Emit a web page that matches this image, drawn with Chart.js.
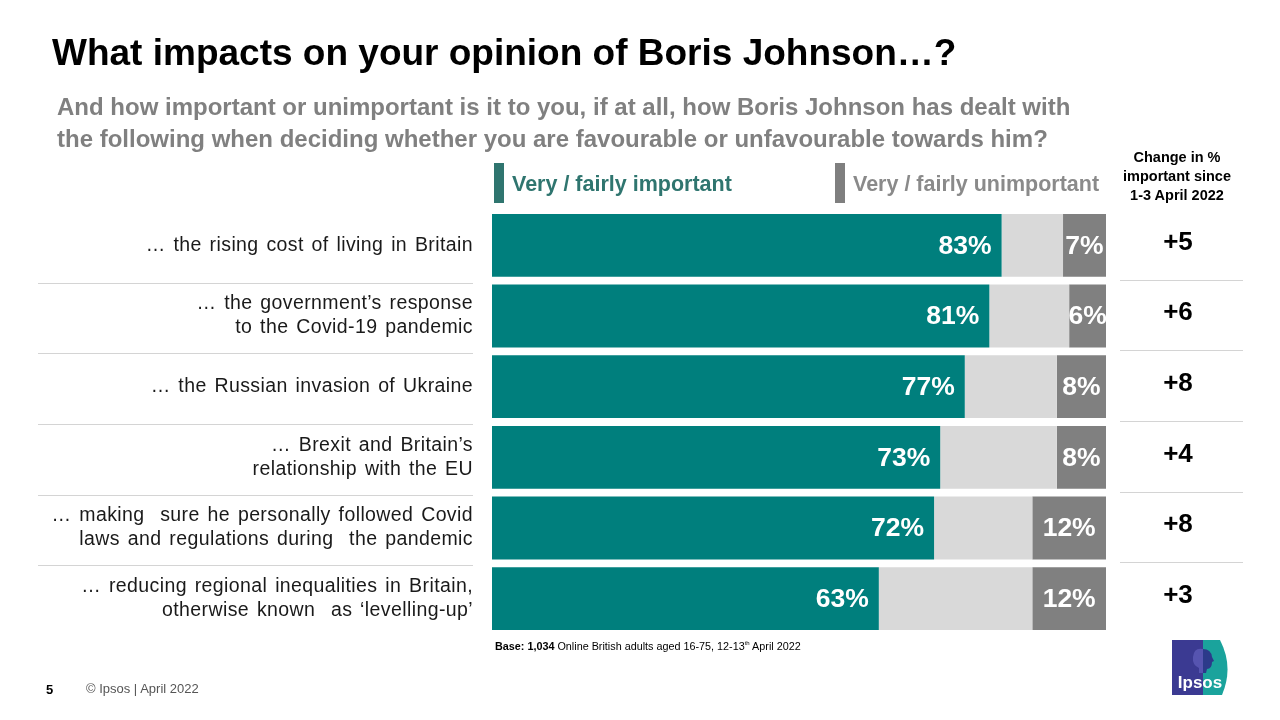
<!DOCTYPE html>
<html>
<head>
<meta charset="utf-8">
<script src="https://cdn.jsdelivr.net/npm/chart.js@4"></script>
<style>
  html,body{margin:0;padding:0;background:#fff;}
  body{width:1280px;height:720px;position:relative;overflow:hidden;font-family:"Liberation Sans",Arial,sans-serif;}
  #wrap{position:absolute;left:0;top:0;width:1280px;height:720px;}
  .abs{position:absolute;white-space:nowrap;}
  #title{left:52px;top:31px;font-size:37px;line-height:44px;font-weight:bold;color:#000;}
  #sub{left:57px;top:91px;font-size:24px;font-weight:bold;color:#808080;line-height:32px;}
  .leg{font-size:21.5px;font-weight:bold;line-height:24px;}
  .mark{position:absolute;width:10px;height:40px;}
  #chg{left:1117px;top:148px;width:120px;text-align:center;font-size:14.5px;font-weight:bold;line-height:19px;color:#000;}
  #base{left:495px;top:640px;font-size:10.8px;color:#000;}
  #pg{left:46px;top:682px;font-size:13px;font-weight:bold;color:#000;}
  #copy{left:86px;top:681px;font-size:13px;color:#555;}
  #logo{position:absolute;left:1172px;top:640px;width:61px;height:55px;overflow:hidden;}
</style>
</head>
<body>
<div id="wrap"><canvas id="c" width="1280" height="720"></canvas></div>
<div class="abs" id="title">What impacts on your opinion of Boris Johnson…?</div>
<div class="abs" id="sub">And how important or unimportant is it to you, if at all, how Boris Johnson has dealt with<br>the following when deciding whether you are favourable or unfavourable towards him?</div>
<div class="mark" style="left:494px;top:163px;background:#2f756f;"></div>
<div class="abs leg" style="left:512px;top:172px;color:#2f756f;">Very / fairly important</div>
<div class="mark" style="left:835px;top:163px;background:#7f7f7f;"></div>
<div class="abs leg" style="left:853px;top:172px;color:#8a8a8a;">Very / fairly unimportant</div>
<div class="abs" id="chg">Change in %<br>important since<br>1-3 April 2022</div>
<div class="abs" id="base"><b>Base: 1,034</b> Online British adults aged 16-75, 12-13<sup style="font-size:6px">th</sup> April 2022</div>
<div class="abs" id="pg">5</div>
<div class="abs" id="copy">© Ipsos | April 2022</div>
<div id="logo">
  <svg width="61" height="55" viewBox="0 0 61 55">
    <path d="M0 0 H48 Q62 27 50 55 H0 Z" fill="#1aa39c"/>
    <path d="M0 0 H31 V55 H0 Z" fill="#3b3a92"/>
    <path d="M31 9 Q22 7 21 17 Q20 25 27 28 L27 33 L31 33 Z" fill="#5654b0"/>
    <path d="M31 9 Q39 9 40 17 L42 21 L40 22 Q40 29 35 29 L34 33 L31 33 Z" fill="#2c3a8a"/>
    <text x="28" y="48" text-anchor="middle" font-family="Liberation Sans, Arial, sans-serif" font-size="17" font-weight="bold" fill="#fff">Ipsos</text>
  </svg>
</div>
<script>
const categories = [
  ["… the rising cost of living in Britain"],
  ["… the government’s response", "to the Covid-19 pandemic"],
  ["… the Russian invasion of Ukraine"],
  ["… Brexit and Britain’s", "relationship with the EU"],
  ["… making  sure he personally followed Covid", "laws and regulations during  the pandemic"],
  ["… reducing regional inequalities in Britain,", "otherwise known  as ‘levelling-up’"]
];
const important = [83, 81, 77, 73, 72, 63];
const neither = [10, 13, 15, 19, 16, 25];
const unimportant = [7, 6, 8, 8, 12, 12];
const changeLabels = ["+5", "+6", "+8", "+4", "+8", "+3"];

const spacingPlugin = {
  id: 'spacing',
  beforeDraw(chart) {
    chart.ctx.letterSpacing = '0.4px';
    chart.ctx.wordSpacing = '2px';
  },
  beforeDatasetsDraw(chart) {
    chart.ctx.letterSpacing = '0px';
    chart.ctx.wordSpacing = '0px';
  }
};

const labelPlugin = {
  id: 'labels',
  afterDatasetsDraw(chart) {
    const ctx = chart.ctx;
    ctx.save();
    ctx.fillStyle = '#fff';
    ctx.font = 'bold 26.5px "Liberation Sans",Arial,sans-serif';
    ctx.textBaseline = 'middle';
    const m0 = chart.getDatasetMeta(0), m2 = chart.getDatasetMeta(2);
    m0.data.forEach((b, i) => {
      ctx.textAlign = 'right';
      ctx.fillText(important[i] + '%', b.x - 10, b.y + 1);
    });
    m2.data.forEach((b, i) => {
      ctx.textAlign = 'center';
      ctx.fillText(unimportant[i] + '%', (b.x + b.base) / 2, b.y + 1);
    });
    const ys = chart.scales.y;
    ctx.fillStyle = '#000';
    ctx.font = 'bold 26px "Liberation Sans",Arial,sans-serif';
    ctx.textAlign = 'center';
    changeLabels.forEach((t, i) => {
      ctx.fillText(t, 1178, ys.getPixelForValue(i) - 3);
    });
    ctx.strokeStyle = '#d4d4d4';
    ctx.lineWidth = 1;
    for (let i = 0; i < categories.length - 1; i++) {
      const y = Math.round((ys.getPixelForValue(i) + ys.getPixelForValue(i + 1)) / 2) + 0.5;
      ctx.beginPath(); ctx.moveTo(38, y + 2); ctx.lineTo(473, y + 2); ctx.stroke();
      ctx.beginPath(); ctx.moveTo(1120, y - 1); ctx.lineTo(1243, y - 1); ctx.stroke();
    }
    ctx.restore();
  }
};

new Chart(document.getElementById('c'), {
  type: 'bar',
  data: {
    labels: categories,
    datasets: [
      { label: 'Very / fairly important', data: important, backgroundColor: '#007f7d' },
      { label: 'Neither', data: neither, backgroundColor: '#d9d9d9' },
      { label: 'Very / fairly unimportant', data: unimportant, backgroundColor: '#808080' }
    ]
  },
  options: {
    indexAxis: 'y',
    responsive: false,
    animation: false,
    events: [],
    layout: { padding: { left: 0, right: 174, top: 210, bottom: 86 } },
    plugins: { legend: { display: false }, tooltip: { enabled: false } },
    datasets: { bar: { barPercentage: 0.89, categoryPercentage: 1.0 } },
    scales: {
      x: { stacked: true, min: 0, max: 100, display: false },
      y: {
        stacked: true,
        grid: { display: false },
        border: { display: false },
        ticks: {
          color: '#1a1a1a',
          font: { family: '"Liberation Sans",Arial,sans-serif', size: 19.5, lineHeight: 1.23 },
          padding: 11
        },
        afterFit(scale) { scale.width = 492; }
      }
    }
  },
  plugins: [spacingPlugin, labelPlugin]
});
</script>
</body>
</html>
